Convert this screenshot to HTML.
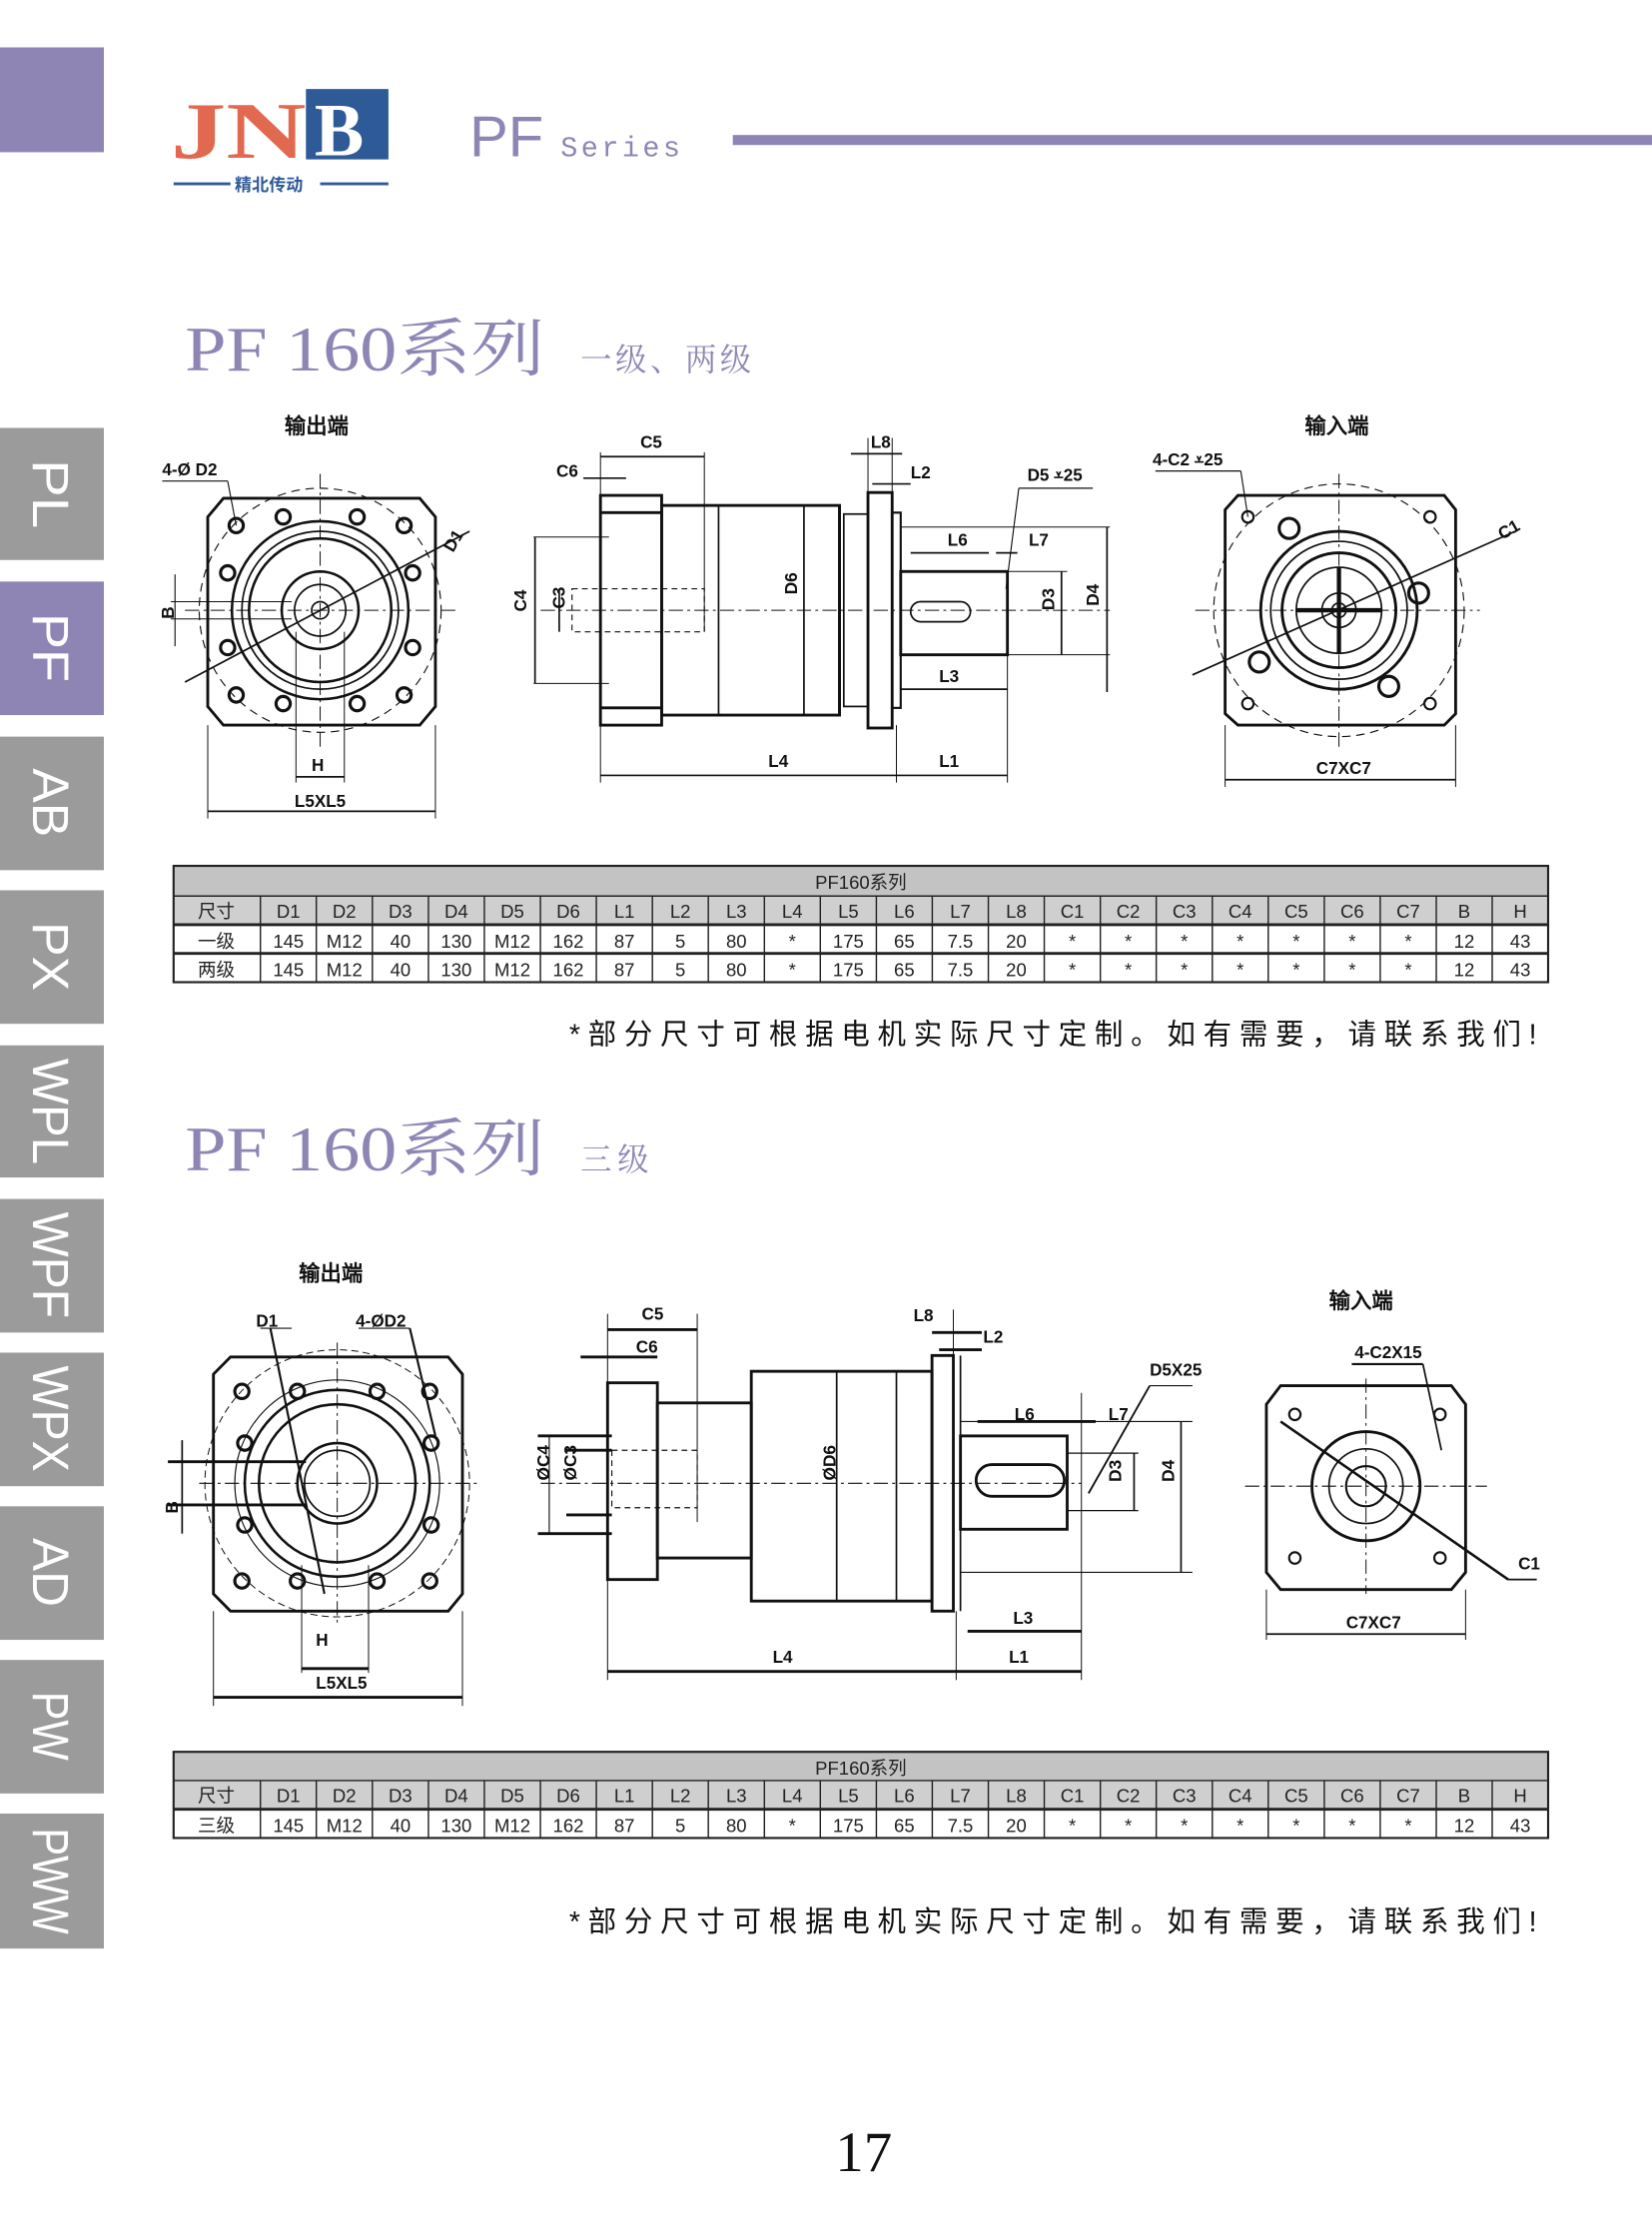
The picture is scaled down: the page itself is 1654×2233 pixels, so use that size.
<!DOCTYPE html>
<html><head><meta charset="utf-8"><style>
html,body{margin:0;padding:0;background:#fff;}
svg{display:block}
.t{font-family:"Liberation Sans","Noto Sans CJK SC",sans-serif;}
.s{font-family:"Liberation Serif","Noto Serif CJK SC",serif;}
.tab{font-family:"Liberation Sans","WenQuanYi Zen Hei",sans-serif;fill:#fff;font-size:36px;}
.lb{font-family:"Liberation Sans Narrow","Liberation Sans","WenQuanYi Zen Hei",sans-serif;font-size:12px;font-weight:bold;fill:#111}
.tb{font-family:"Liberation Sans Narrow","Liberation Sans","Noto Sans CJK SC",sans-serif;font-size:13px;fill:#222;text-anchor:middle}
</style></head><body>
<svg width="1654" height="2233" viewBox="0 0 1161 1553" preserveAspectRatio="none" xmlns="http://www.w3.org/2000/svg">
<rect x="0" y="33" width="73" height="73" fill="#8e85b5"/>
<g fill="#9b9b9b">
<rect x="0" y="298" width="73" height="92"/>
<rect x="0" y="405" width="73" height="93" fill="#8e85b5"/>
<rect x="0" y="513" width="73" height="93"/>
<rect x="0" y="620" width="73" height="93"/>
<rect x="0" y="728" width="73" height="92"/>
<rect x="0" y="835" width="73" height="93"/>
<rect x="0" y="942" width="73" height="93"/>
<rect x="0" y="1049" width="73" height="93"/>
<rect x="0" y="1156" width="73" height="93"/>
<rect x="0" y="1263" width="73" height="94"/>
</g>
<g class="tab">
<text transform="translate(23,344) rotate(90)" text-anchor="middle" textLength="48" lengthAdjust="spacingAndGlyphs">PL</text>
<text transform="translate(23,451) rotate(90)" text-anchor="middle" textLength="48" lengthAdjust="spacingAndGlyphs">PF</text>
<text transform="translate(23,559) rotate(90)" text-anchor="middle" textLength="48" lengthAdjust="spacingAndGlyphs">AB</text>
<text transform="translate(23,666) rotate(90)" text-anchor="middle" textLength="48" lengthAdjust="spacingAndGlyphs">PX</text>
<text transform="translate(23,774) rotate(90)" text-anchor="middle" textLength="74" lengthAdjust="spacingAndGlyphs">WPL</text>
<text transform="translate(23,881) rotate(90)" text-anchor="middle" textLength="74" lengthAdjust="spacingAndGlyphs">WPF</text>
<text transform="translate(23,988) rotate(90)" text-anchor="middle" textLength="74" lengthAdjust="spacingAndGlyphs">WPX</text>
<text transform="translate(23,1095) rotate(90)" text-anchor="middle" textLength="48" lengthAdjust="spacingAndGlyphs">AD</text>
<text transform="translate(23,1202) rotate(90)" text-anchor="middle" textLength="48" lengthAdjust="spacingAndGlyphs">PW</text>
<text transform="translate(23,1310) rotate(90)" text-anchor="middle" textLength="74" lengthAdjust="spacingAndGlyphs">PWW</text>
</g>
<text x="120" y="110" class="s" font-size="56" font-weight="bold" fill="#e0694f" textLength="95" lengthAdjust="spacingAndGlyphs">JN</text>
<rect x="215" y="62" width="58" height="49" fill="#2e5a97"/>
<text x="221" y="108" class="s" font-size="52" font-weight="bold" fill="#fff">B</text>
<line x1="122" y1="128" x2="162" y2="128" stroke="#2e5a97" stroke-width="2"/>
<line x1="225" y1="128" x2="273" y2="128" stroke="#2e5a97" stroke-width="2"/>
<text x="165" y="133" class="t" font-size="12" font-weight="bold" fill="#2e5a97">精北传动</text>
<text x="330" y="109" class="t" font-size="40" fill="#8e85b5" textLength="52" lengthAdjust="spacingAndGlyphs">PF</text>
<text x="394" y="109" font-family="Liberation Mono,monospace" font-size="20" fill="#8e85b5" textLength="84">Series</text>
<rect x="515" y="94" width="646" height="7" fill="#8e85b5"/>
<text x="130" y="258" class="s" font-size="44" fill="#8e85b5" textLength="253" lengthAdjust="spacingAndGlyphs">PF 160系列</text>
<text x="408" y="258" class="s" font-size="22" fill="#8e85b5" textLength="120">一级、两级</text>
<text x="130" y="815" class="s" font-size="44" fill="#8e85b5" textLength="253" lengthAdjust="spacingAndGlyphs">PF 160系列</text>
<text x="408" y="815" class="s" font-size="22" fill="#8e85b5" textLength="48">三级</text>

<g fill="none" stroke="#111" stroke-width="1.2">
<path d="M157,347 L295,347 L306,360 L306,492 L295,505 L157,505 L146,492 L146,360 Z" stroke-width="2"/>
<circle cx="225" cy="425" r="85" stroke-dasharray="6,4" stroke-width="0.8"/>
<circle cx="225" cy="425" r="62" stroke-width="1.8"/>
<circle cx="225" cy="425" r="55"/>
<circle cx="225" cy="425" r="50" stroke-width="1.8"/>
<circle cx="225" cy="425" r="27" stroke-width="1.8"/>
<circle cx="225" cy="425" r="18"/>
<circle cx="225" cy="425" r="6"/>
<g stroke-width="2.2">
<circle cx="166" cy="366" r="5"/><circle cx="284" cy="366" r="5"/><circle cx="166" cy="484" r="5"/><circle cx="284" cy="484" r="5"/>
<circle cx="199" cy="360" r="5"/><circle cx="251" cy="360" r="5"/><circle cx="199" cy="490" r="5"/><circle cx="251" cy="490" r="5"/>
<circle cx="160" cy="399" r="5"/><circle cx="290" cy="399" r="5"/><circle cx="160" cy="451" r="5"/><circle cx="290" cy="451" r="5"/>
</g>
<line x1="225" y1="330" x2="225" y2="520" stroke-dasharray="10,3,2,3" stroke-width="0.7"/>
<line x1="130" y1="425" x2="320" y2="425" stroke-dasharray="10,3,2,3" stroke-width="0.7"/>
<line x1="130" y1="475" x2="330" y2="370"/>
<line x1="120" y1="419" x2="205" y2="419" stroke-width="0.7"/><line x1="120" y1="431" x2="205" y2="431" stroke-width="0.7"/>
<line x1="123" y1="400" x2="123" y2="450" stroke-width="0.8"/>
<line x1="114" y1="335" x2="160" y2="335" stroke-width="0.8"/><line x1="160" y1="335" x2="166" y2="366" stroke-width="0.8"/>
<line x1="146" y1="505" x2="146" y2="570" stroke-width="0.7"/><line x1="306" y1="505" x2="306" y2="570" stroke-width="0.7"/>
<line x1="146" y1="565" x2="306" y2="565"/>
<line x1="208" y1="440" x2="208" y2="545" stroke-width="0.7"/><line x1="242" y1="440" x2="242" y2="545" stroke-width="0.7"/>
<line x1="208" y1="541" x2="242" y2="541"/>
<rect x="422" y="345" width="43" height="160" stroke-width="2"/>
<line x1="422" y1="357" x2="465" y2="357" stroke-width="2"/><line x1="422" y1="493" x2="465" y2="493" stroke-width="2"/>
<rect x="465" y="352" width="125" height="146" stroke-width="2"/>
<line x1="505" y1="352" x2="505" y2="498"/><line x1="565" y1="352" x2="565" y2="498"/>
<line x1="590" y1="352" x2="590" y2="498" stroke-width="2"/>
<rect x="593" y="358" width="17" height="134"/>
<rect x="610" y="343" width="17" height="164" stroke-width="2"/>
<rect x="627" y="357" width="6" height="136" stroke-width="1.5"/>
<rect x="633" y="398" width="75" height="58" stroke-width="2"/>
<rect x="640" y="419" width="42" height="14" rx="7"/>
<rect x="402" y="410" width="93" height="30" stroke-dasharray="4,3" stroke-width="0.8"/>
<line x1="380" y1="425" x2="780" y2="425" stroke-dasharray="10,3,2,3" stroke-width="0.7"/>
<line x1="375" y1="374" x2="428" y2="374" stroke-width="0.7"/><line x1="375" y1="476" x2="428" y2="476" stroke-width="0.7"/><line x1="376" y1="374" x2="376" y2="476"/>
<line x1="393" y1="410" x2="393" y2="440"/>
<line x1="422" y1="315" x2="422" y2="345" stroke-width="0.7"/><line x1="495" y1="315" x2="495" y2="440" stroke-width="0.7"/>
<line x1="422" y1="318" x2="495" y2="318"/>
<line x1="410" y1="333" x2="440" y2="333"/>
<line x1="598" y1="316" x2="634" y2="316"/><line x1="610" y1="305" x2="610" y2="343" stroke-width="0.7"/><line x1="627" y1="305" x2="627" y2="343" stroke-width="0.7"/>
<line x1="613" y1="337" x2="640" y2="337"/>
<line x1="633" y1="367" x2="780" y2="367" stroke-width="0.7"/><line x1="708" y1="456" x2="780" y2="456" stroke-width="0.7"/><line x1="708" y1="398" x2="750" y2="398" stroke-width="0.7"/>
<line x1="778" y1="367" x2="778" y2="482"/><line x1="746" y1="398" x2="746" y2="456"/>
<line x1="640" y1="385" x2="695" y2="385"/><line x1="700" y1="385" x2="715" y2="385"/>
<line x1="716" y1="340" x2="768" y2="340" stroke-width="0.8"/><line x1="716" y1="340" x2="707" y2="410" stroke-width="0.8"/>
<line x1="633" y1="480" x2="708" y2="480"/>
<line x1="422" y1="505" x2="422" y2="545" stroke-width="0.7"/><line x1="630" y1="505" x2="630" y2="545" stroke-width="0.7"/><line x1="708" y1="456" x2="708" y2="545" stroke-width="0.7"/>
<line x1="422" y1="540" x2="630" y2="540"/><line x1="630" y1="540" x2="708" y2="540"/>
<path d="M870,345 L1015,345 L1023,355 L1023,497 L1015,505 L870,505 L861,497 L861,355 Z" stroke-width="2"/>
<circle cx="941" cy="425" r="88" stroke-dasharray="6,4" stroke-width="0.8"/>
<circle cx="941" cy="425" r="55" stroke-width="2"/>
<circle cx="941" cy="425" r="48"/>
<circle cx="941" cy="425" r="40" stroke-width="2"/>
<circle cx="941" cy="425" r="30"/>
<circle cx="941" cy="425" r="12"/>
<circle cx="941" cy="425" r="5"/>
<line x1="941" y1="395" x2="941" y2="455" stroke-width="3"/><line x1="911" y1="425" x2="971" y2="425" stroke-width="3"/>
<g stroke-width="2.2"><circle cx="906" cy="368" r="7"/><circle cx="997" cy="413" r="7"/><circle cx="885" cy="461" r="7"/><circle cx="976" cy="478" r="7"/></g>
<g stroke-width="1.5"><circle cx="877" cy="360" r="4"/><circle cx="1005" cy="360" r="4"/><circle cx="877" cy="490" r="4"/><circle cx="1005" cy="490" r="4"/></g>
<line x1="941" y1="330" x2="941" y2="520" stroke-dasharray="10,3,2,3" stroke-width="0.7"/>
<line x1="840" y1="425" x2="1040" y2="425" stroke-dasharray="10,3,2,3" stroke-width="0.7"/>
<line x1="838" y1="470" x2="1065" y2="370"/>
<line x1="812" y1="328" x2="872" y2="328" stroke-width="0.8"/><line x1="872" y1="328" x2="877" y2="360" stroke-width="0.8"/>
<line x1="861" y1="505" x2="861" y2="548" stroke-width="0.7"/><line x1="1023" y1="505" x2="1023" y2="548" stroke-width="0.7"/>
<line x1="861" y1="543" x2="1023" y2="543"/>
</g>
<g class="lb">
<text x="200" y="302" font-size="15">输出端</text>
<text x="917" y="302" font-size="15">输入端</text>
<text x="114" y="331">4-Ø D2</text>
<text x="312" y="382" transform="rotate(-60,318,378)">D1</text>
<text x="115" y="432" transform="rotate(-90,118,428)">B</text>
<text x="219" y="537">H</text>
<text x="207" y="562">L5XL5</text>
<text x="450" y="312">C5</text>
<text x="391" y="332">C6</text>
<text x="612" y="312">L8</text>
<text x="640" y="333">L2</text>
<text x="722" y="335">D5 ⩡25</text>
<text x="666" y="380">L6</text>
<text x="723" y="380">L7</text>
<text x="370" y="430" transform="rotate(-90,368,428)">C4</text>
<text x="397" y="432" transform="rotate(-90,393,428)">C3</text>
<text x="558" y="420" transform="rotate(-90,556,416)">D6</text>
<text x="740" y="432" transform="rotate(-90,737,428)">D3</text>
<text x="772" y="430" transform="rotate(-90,768,426)">D4</text>
<text x="660" y="475">L3</text>
<text x="540" y="534">L4</text>
<text x="660" y="534">L1</text>
<text x="810" y="324">4-C2 ⩡25</text>
<text x="1052" y="374" transform="rotate(-30,1058,368)">C1</text>
<text x="925" y="539">C7XC7</text>
</g>

<g fill="none" stroke="#111" stroke-width="1.2">
<path d="M162,945 L315,945 L325,957 L325,1110 L315,1122 L162,1122 L150,1110 L150,957 Z" stroke-width="2"/>
<circle cx="237" cy="1033" r="93" stroke-dasharray="5,3" stroke-width="0.7"/>
<circle cx="237" cy="1033" r="72" stroke-width="0.8"/>
<circle cx="237" cy="1033" r="65" stroke-width="1.8"/>
<circle cx="237" cy="1033" r="55" stroke-width="1.8"/>
<circle cx="237" cy="1033" r="28" stroke-width="1.8"/>
<circle cx="237" cy="1033" r="23"/>
<g stroke-width="2.2">
<circle cx="170" cy="969" r="5"/><circle cx="302" cy="969" r="5"/><circle cx="170" cy="1101" r="5"/><circle cx="302" cy="1101" r="5"/>
<circle cx="209" cy="969" r="5"/><circle cx="265" cy="969" r="5"/><circle cx="209" cy="1101" r="5"/><circle cx="265" cy="1101" r="5"/>
<circle cx="172" cy="1005" r="5"/><circle cx="303" cy="1005" r="5"/><circle cx="172" cy="1062" r="5"/><circle cx="303" cy="1062" r="5"/>
</g>
<line x1="237" y1="935" x2="237" y2="1130" stroke-dasharray="10,3,2,3" stroke-width="0.7"/>
<line x1="140" y1="1033" x2="335" y2="1033" stroke-dasharray="10,3,2,3" stroke-width="0.7"/>
<line x1="118" y1="1018" x2="215" y2="1018" stroke-width="2"/><line x1="118" y1="1048" x2="215" y2="1048" stroke-width="2"/>
<line x1="128" y1="1003" x2="128" y2="1068"/>
<line x1="183" y1="925" x2="205" y2="925" stroke-width="0.8"/><line x1="190" y1="925" x2="228" y2="1110" stroke-width="1.5"/>
<line x1="252" y1="925" x2="288" y2="925" stroke-width="0.8"/><line x1="288" y1="925" x2="306" y2="1000" stroke-width="1.5"/>
<line x1="150" y1="1122" x2="150" y2="1188" stroke-width="0.7"/><line x1="325" y1="1122" x2="325" y2="1188" stroke-width="0.7"/>
<line x1="150" y1="1182" x2="325" y2="1182" stroke-width="2"/>
<line x1="212" y1="1090" x2="212" y2="1165" stroke-width="0.7"/><line x1="259" y1="1090" x2="259" y2="1165" stroke-width="0.7"/>
<line x1="212" y1="1162" x2="259" y2="1162" stroke-width="2"/>
<rect x="427" y="963" width="35" height="137" stroke-width="2"/>
<rect x="462" y="977" width="66" height="108" stroke-width="2"/>
<rect x="528" y="955" width="127" height="160" stroke-width="2"/>
<line x1="588" y1="955" x2="588" y2="1115"/><line x1="630" y1="955" x2="630" y2="1115"/>
<rect x="655" y="944" width="15" height="178" stroke-width="2"/>
<line x1="675" y1="944" x2="675" y2="1122"/>
<rect x="675" y="1000" width="75" height="65" stroke-width="2"/>
<rect x="686" y="1020" width="62" height="22" rx="11" stroke-width="2"/>
<rect x="430" y="1010" width="60" height="40" stroke-dasharray="4,3" stroke-width="0.8"/>
<line x1="380" y1="1033" x2="760" y2="1033" stroke-dasharray="10,3,2,3" stroke-width="0.7"/>
<line x1="378" y1="1000" x2="430" y2="1000" stroke-width="2"/><line x1="378" y1="1068" x2="430" y2="1068" stroke-width="2"/>
<line x1="386" y1="1000" x2="386" y2="1068" stroke-width="0.8"/>
<line x1="398" y1="1010" x2="430" y2="1010" stroke-width="2"/><line x1="398" y1="1055" x2="430" y2="1055" stroke-width="2"/>
<line x1="427" y1="915" x2="427" y2="1170" stroke-width="0.7"/><line x1="490" y1="915" x2="490" y2="1060" stroke-width="0.7"/>
<line x1="427" y1="926" x2="490" y2="926" stroke-width="2"/>
<line x1="408" y1="945" x2="462" y2="945" stroke-width="2"/>
<line x1="655" y1="928" x2="690" y2="928" stroke-width="2"/><line x1="670" y1="912" x2="670" y2="944" stroke-width="0.7"/>
<line x1="660" y1="940" x2="690" y2="940" stroke-width="2"/>
<line x1="675" y1="990" x2="838" y2="990" stroke-width="0.8"/><line x1="675" y1="1095" x2="838" y2="1095" stroke-width="0.8"/>
<line x1="830" y1="990" x2="830" y2="1095"/>
<line x1="750" y1="1012" x2="800" y2="1012" stroke-width="0.8"/><line x1="750" y1="1052" x2="800" y2="1052" stroke-width="0.8"/><line x1="797" y1="1012" x2="797" y2="1052"/>
<line x1="687" y1="990" x2="770" y2="990" stroke-width="2"/>
<line x1="760" y1="970" x2="760" y2="1170" stroke-width="0.7"/>
<line x1="808" y1="965" x2="838" y2="965" stroke-width="0.8"/><line x1="808" y1="965" x2="765" y2="1040" stroke-width="1.3"/>
<line x1="680" y1="1136" x2="760" y2="1136" stroke-width="2"/>
<line x1="427" y1="1164" x2="760" y2="1164" stroke-width="2"/><line x1="672" y1="1122" x2="672" y2="1170" stroke-width="0.7"/>
<path d="M900,965 L1020,965 L1030,978 L1030,1095 L1020,1107 L900,1107 L890,1095 L890,978 Z" stroke-width="2"/>
<circle cx="960" cy="1035" r="38" stroke-width="2"/>
<circle cx="960" cy="1035" r="26"/>
<circle cx="960" cy="1035" r="14" stroke-width="1.5"/>
<g stroke-width="1.5"><circle cx="910" cy="985" r="4"/><circle cx="1012" cy="985" r="4"/><circle cx="910" cy="1085" r="4"/><circle cx="1012" cy="1085" r="4"/></g>
<line x1="960" y1="960" x2="960" y2="1110" stroke-dasharray="10,3,2,3" stroke-width="0.7"/>
<line x1="875" y1="1035" x2="1045" y2="1035" stroke-dasharray="10,3,2,3" stroke-width="0.7"/>
<line x1="900" y1="990" x2="1060" y2="1100" stroke-width="1.8"/><line x1="1060" y1="1100" x2="1080" y2="1100"/>
<line x1="950" y1="950" x2="1000" y2="950" stroke-width="1.5"/><line x1="1000" y1="950" x2="1013" y2="1010" stroke-width="1.2"/>
<line x1="890" y1="1107" x2="890" y2="1142" stroke-width="0.7"/><line x1="1030" y1="1107" x2="1030" y2="1142" stroke-width="0.7"/>
<line x1="890" y1="1138" x2="1030" y2="1138"/>
</g>
<g class="lb">
<text x="210" y="892" font-size="15">输出端</text>
<text x="934" y="911" font-size="15">输入端</text>
<text x="180" y="924">D1</text>
<text x="250" y="924">4-ØD2</text>
<text x="222" y="1146">H</text>
<text x="222" y="1176">L5XL5</text>
<text x="123" y="1060" transform="rotate(-90,121,1056)">B</text>
<text x="451" y="919">C5</text>
<text x="447" y="942">C6</text>
<text x="642" y="920">L8</text>
<text x="691" y="935">L2</text>
<text x="808" y="958">D5X25</text>
<text x="713" y="989">L6</text>
<text x="779" y="989">L7</text>
<text x="381" y="1042" transform="rotate(-90,378,1034)">ØC4</text>
<text x="400" y="1042" transform="rotate(-90,397,1034)">ØC3</text>
<text x="582" y="1042" transform="rotate(-90,579,1034)">ØD6</text>
<text x="786" y="1040" transform="rotate(-90,783,1035)">D3</text>
<text x="823" y="1040" transform="rotate(-90,820,1035)">D4</text>
<text x="712" y="1131">L3</text>
<text x="543" y="1158">L4</text>
<text x="709" y="1158">L1</text>
<text x="952" y="946">4-C2X15</text>
<text x="1067" y="1093">C1</text>
<text x="946" y="1134">C7XC7</text>
</g>

<!-- Table 1 -->
<rect x="122" y="603" width="966" height="21" fill="#c3c3c3"/>
<rect x="122" y="624" width="966" height="20" fill="#cfcfcf"/>
<g stroke="#222" fill="none">
<rect x="122" y="603" width="966" height="81" stroke-width="1.5"/>
<line x1="122" y1="624" x2="1088" y2="624"/>
<line x1="122" y1="644" x2="1088" y2="644" stroke-width="2"/>
<line x1="122" y1="664" x2="1088" y2="664" stroke-width="2"/>
<path d="M183,624V684M222.3,624V684M261.7,624V684M301.1,624V684M340.4,624V684M379.8,624V684M419.1,624V684M458.5,624V684M497.8,624V684M537.2,624V684M576.5,624V684M615.9,624V684M655.2,624V684M694.6,624V684M733.9,624V684M773.3,624V684M812.6,624V684M852,624V684M891.3,624V684M930.7,624V684M970,624V684M1009.4,624V684M1048.7,624V684"/>
</g>
<g class="tb">
<text x="605" y="619">PF160系列</text>
<text y="639"><tspan x="152">尺寸</tspan><tspan x="202.7">D1</tspan><tspan x="242">D2</tspan><tspan x="281.4">D3</tspan><tspan x="320.7">D4</tspan><tspan x="360.1">D5</tspan><tspan x="399.4">D6</tspan><tspan x="438.8">L1</tspan><tspan x="478.1">L2</tspan><tspan x="517.5">L3</tspan><tspan x="556.8">L4</tspan><tspan x="596.2">L5</tspan><tspan x="635.5">L6</tspan><tspan x="674.9">L7</tspan><tspan x="714.2">L8</tspan><tspan x="753.6">C1</tspan><tspan x="792.9">C2</tspan><tspan x="832.3">C3</tspan><tspan x="871.6">C4</tspan><tspan x="911">C5</tspan><tspan x="950.3">C6</tspan><tspan x="989.7">C7</tspan><tspan x="1029">B</tspan><tspan x="1068.4">H</tspan></text>
<text y="660"><tspan x="152">一级</tspan><tspan x="202.7">145</tspan><tspan x="242">M12</tspan><tspan x="281.4">40</tspan><tspan x="320.7">130</tspan><tspan x="360.1">M12</tspan><tspan x="399.4">162</tspan><tspan x="438.8">87</tspan><tspan x="478.1">5</tspan><tspan x="517.5">80</tspan><tspan x="556.8">*</tspan><tspan x="596.2">175</tspan><tspan x="635.5">65</tspan><tspan x="674.9">7.5</tspan><tspan x="714.2">20</tspan><tspan x="753.6">*</tspan><tspan x="792.9">*</tspan><tspan x="832.3">*</tspan><tspan x="871.6">*</tspan><tspan x="911">*</tspan><tspan x="950.3">*</tspan><tspan x="989.7">*</tspan><tspan x="1029">12</tspan><tspan x="1068.4">43</tspan></text>
<text y="680"><tspan x="152">两级</tspan><tspan x="202.7">145</tspan><tspan x="242">M12</tspan><tspan x="281.4">40</tspan><tspan x="320.7">130</tspan><tspan x="360.1">M12</tspan><tspan x="399.4">162</tspan><tspan x="438.8">87</tspan><tspan x="478.1">5</tspan><tspan x="517.5">80</tspan><tspan x="556.8">*</tspan><tspan x="596.2">175</tspan><tspan x="635.5">65</tspan><tspan x="674.9">7.5</tspan><tspan x="714.2">20</tspan><tspan x="753.6">*</tspan><tspan x="792.9">*</tspan><tspan x="832.3">*</tspan><tspan x="871.6">*</tspan><tspan x="911">*</tspan><tspan x="950.3">*</tspan><tspan x="989.7">*</tspan><tspan x="1029">12</tspan><tspan x="1068.4">43</tspan></text>
</g>
<text x="400" y="727" class="t" font-size="20" fill="#111" textLength="680" lengthAdjust="spacing">*部分尺寸可根据电机实际尺寸定制。如有需要，请联系我们!</text>

<!-- Table 2 -->
<rect x="122" y="1220" width="966" height="20" fill="#c3c3c3"/>
<rect x="122" y="1240" width="966" height="20" fill="#cfcfcf"/>
<g stroke="#222" fill="none">
<rect x="122" y="1220" width="966" height="60" stroke-width="1.5"/>
<line x1="122" y1="1240" x2="1088" y2="1240"/>
<line x1="122" y1="1260" x2="1088" y2="1260" stroke-width="2"/>
<path d="M183,1240V1280M222.3,1240V1280M261.7,1240V1280M301.1,1240V1280M340.4,1240V1280M379.8,1240V1280M419.1,1240V1280M458.5,1240V1280M497.8,1240V1280M537.2,1240V1280M576.5,1240V1280M615.9,1240V1280M655.2,1240V1280M694.6,1240V1280M733.9,1240V1280M773.3,1240V1280M812.6,1240V1280M852,1240V1280M891.3,1240V1280M930.7,1240V1280M970,1240V1280M1009.4,1240V1280M1048.7,1240V1280"/>
</g>
<g class="tb">
<text x="605" y="1236">PF160系列</text>
<text y="1255"><tspan x="152">尺寸</tspan><tspan x="202.7">D1</tspan><tspan x="242">D2</tspan><tspan x="281.4">D3</tspan><tspan x="320.7">D4</tspan><tspan x="360.1">D5</tspan><tspan x="399.4">D6</tspan><tspan x="438.8">L1</tspan><tspan x="478.1">L2</tspan><tspan x="517.5">L3</tspan><tspan x="556.8">L4</tspan><tspan x="596.2">L5</tspan><tspan x="635.5">L6</tspan><tspan x="674.9">L7</tspan><tspan x="714.2">L8</tspan><tspan x="753.6">C1</tspan><tspan x="792.9">C2</tspan><tspan x="832.3">C3</tspan><tspan x="871.6">C4</tspan><tspan x="911">C5</tspan><tspan x="950.3">C6</tspan><tspan x="989.7">C7</tspan><tspan x="1029">B</tspan><tspan x="1068.4">H</tspan></text>
<text y="1276"><tspan x="152">三级</tspan><tspan x="202.7">145</tspan><tspan x="242">M12</tspan><tspan x="281.4">40</tspan><tspan x="320.7">130</tspan><tspan x="360.1">M12</tspan><tspan x="399.4">162</tspan><tspan x="438.8">87</tspan><tspan x="478.1">5</tspan><tspan x="517.5">80</tspan><tspan x="556.8">*</tspan><tspan x="596.2">175</tspan><tspan x="635.5">65</tspan><tspan x="674.9">7.5</tspan><tspan x="714.2">20</tspan><tspan x="753.6">*</tspan><tspan x="792.9">*</tspan><tspan x="832.3">*</tspan><tspan x="871.6">*</tspan><tspan x="911">*</tspan><tspan x="950.3">*</tspan><tspan x="989.7">*</tspan><tspan x="1029">12</tspan><tspan x="1068.4">43</tspan></text>
</g>
<text x="400" y="1345" class="t" font-size="20" fill="#111" textLength="680" lengthAdjust="spacing">*部分尺寸可根据电机实际尺寸定制。如有需要，请联系我们!</text>

<text x="607" y="1512" class="s" font-size="40" fill="#111" text-anchor="middle">17</text>
</svg>
</body></html>
